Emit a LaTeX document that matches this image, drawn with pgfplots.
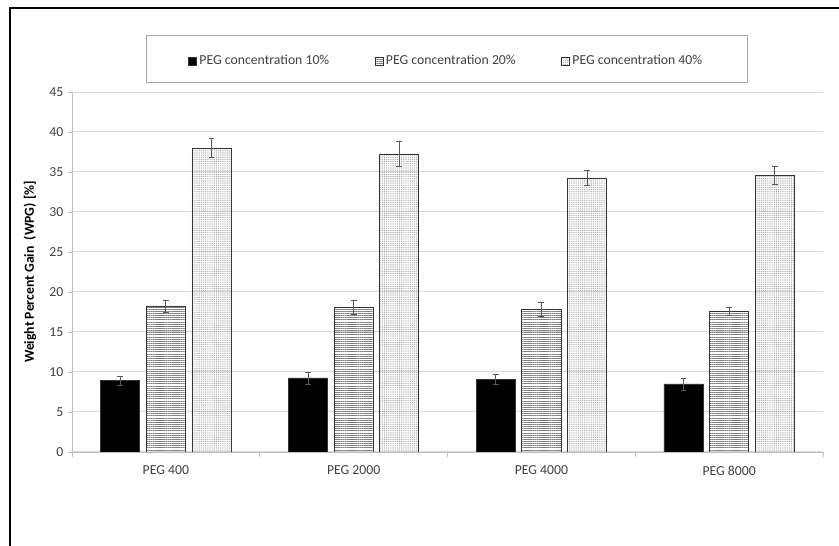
\documentclass[border=0pt]{standalone}
\usepackage{pgfplots}
\pgfplotsset{compat=1.18}
\usepackage{fontspec}
\setmainfont{Carlito}
\usetikzlibrary{patterns.meta}
\definecolor{gridgray}{HTML}{D9D9D9}
\definecolor{axgray}{HTML}{BFBFBF}
\definecolor{txtgray}{HTML}{404040}
\definecolor{errgray}{HTML}{595959}
\begin{document}
\begin{tikzpicture}
\path[use as bounding box] (0,0) rectangle (629.25pt,409.5pt);
\draw[line width=1.5pt] (7.5pt,-2pt) -- (7.5pt,403.5pt) -- (632pt,403.5pt);
\draw[gray!70, line width=0.75pt] (109.5pt,347.25pt) rectangle (560.25pt,382.5pt);
\begin{axis}[
  at={(54pt,70.5pt)}, anchor=south west, scale only axis,
  width=563.25pt, height=270pt,
  ybar, bar width=0.208,
  xmin=-0.5, xmax=3.5, ymin=0, ymax=45, enlargelimits=false,
  ytick={0,5,...,45},
  xtick={0,1,2,3}, xticklabels={PEG 400, PEG 2000, PEG 4000, PEG 8000},
  minor xtick={-0.5,0.5,1.5,2.5,3.5},
  major x tick style={draw=none},
  minor x tick style={axgray, line width=0.6pt},
  y tick style={axgray, line width=0.6pt},
  major tick length=3pt, minor tick length=3.5pt, tick align=outside,
  axis x line*=bottom, axis y line*=left,
  axis line style={axgray, line width=0.6pt, -},
  ymajorgrids, grid style={gridgray, line width=0.75pt},
  tick label style={font=\fontsize{10.3}{12}\selectfont, text=txtgray},
  x tick label style={yshift=-4pt},
  /pgf/number format/assume math mode=true,
  ylabel={\textbf{Weight Percent Gain\ \ (WPG) [\%]}},
  ylabel style={font=\fontsize{10.3}{12}\selectfont, at={(axis description cs:-0.056,0.5)}, anchor=center},
  legend style={at={(axis description cs:0.4987,1.086)}, anchor=center, draw=none, fill=none,
    legend columns=3, font=\fontsize{10.3}{12}\selectfont, text=txtgray,
    /tikz/every even column/.append style={column sep=32pt}},
  legend image code/.code={\draw[#1, draw=black!80, line width=0.5pt] (0pt,-3pt) rectangle (6pt,3pt);},
]
\addplot[fill=black, draw=black!80, line width=0.6pt, bar shift=-0.243,
  error bars/y dir=both, error bars/y explicit,
  error bars/error bar style={errgray, line width=0.6pt},
  error bars/error mark options={rotate=90, errgray, mark size=2.2pt, line width=0.6pt}]
  coordinates {(0,8.9) +- (0,0.55) (1,9.25) +- (0,0.75) (2,9.1) +- (0,0.6) (3,8.5) +- (0,0.75)};
\addplot[pattern={Lines[angle=0,distance=1.6pt,line width=0.55pt]}, pattern color=gray, draw=black!80, line width=0.6pt, bar shift=0,
  error bars/y dir=both, error bars/y explicit,
  error bars/error bar style={errgray, line width=0.6pt},
  error bars/error mark options={rotate=90, errgray, mark size=2.2pt, line width=0.6pt}]
  coordinates {(0,18.25) +- (0,0.75) (1,18.1) +- (0,0.85) (2,17.8) +- (0,0.9) (3,17.6) +- (0,0.5)};
\addplot[pattern={Dots[distance=1.4pt,radius=0.4pt]}, pattern color=gray!80, draw=black!80, line width=0.6pt, bar shift=0.243,
  error bars/y dir=both, error bars/y explicit,
  error bars/error bar style={errgray, line width=0.6pt},
  error bars/error mark options={rotate=90, errgray, mark size=2.2pt, line width=0.6pt}]
  coordinates {(0,38.0) +- (0,1.2) (1,37.25) +- (0,1.55) (2,34.25) +- (0,0.9) (3,34.6) +- (0,1.1)};
\legend{PEG concentration 10\%, PEG concentration 20\%, PEG concentration 40\%}
\end{axis}
\end{tikzpicture}
\end{document}
